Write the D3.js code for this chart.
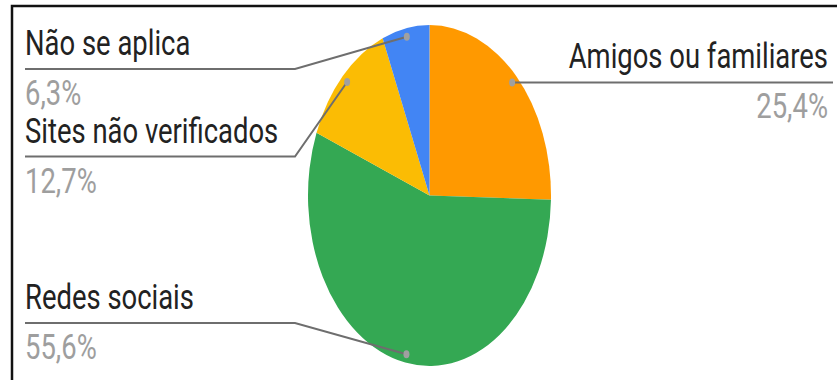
<!DOCTYPE html>
<html>
<head>
<meta charset="utf-8">
<script src="https://d3js.org/d3.v7.min.js"></script>
<style>
  body { margin: 0; background: #fff; }
  text { font-family: Roboto, "Liberation Sans", sans-serif; }
</style>
</head>
<body>
<div id="chart"></div>
<script>
// answers, in clockwise order from 12 o'clock
const categories = ['Amigos ou familiares', 'Redes sociais', 'Sites não verificados', 'Não se aplica'];
const values = [25.4, 55.6, 12.7, 6.3];
const pctLabels = ['25,4%', '55,6%', '12,7%', '6,3%'];
const colors = ['#ff9900', '#34a853', '#fbbc04', '#4285f4'];

const width = 837, height = 380;
const cx = 429.5, cy = 195.5, rx = 121.5, ry = 170.5;
const fontSize = 34.5;
const textScale = 0.795;   // picture is squeezed sideways

const svg = d3.select('#chart').append('svg')
    .attr('width', width)
    .attr('height', height);

// frame (only top and left edges show)
svg.append('rect')
    .attr('x', 12).attr('y', 6)
    .attr('width', 900).attr('height', 500)
    .attr('fill', 'none')
    .attr('stroke', '#111')
    .attr('stroke-width', 2.5);

const data = categories.map((c, i) => ({name: c, value: values[i], pct: pctLabels[i], color: colors[i]}));

const pie = d3.pie().sort(null).value(d => d.value);
const arcs = pie(data);
const arc = d3.arc().innerRadius(0).outerRadius(ry);

svg.append('g')
    .attr('transform', `translate(${cx},${cy}) scale(${rx / ry},1)`)
  .selectAll('path')
  .data(arcs)
  .join('path')
    .attr('d', arc)
    .attr('fill', d => d.data.color);

// dot inside each slice, on the ellipse
arcs.forEach(a => {
  const mid = (a.startAngle + a.endAngle) / 2;
  a.dotX = cx + 0.95 * rx * Math.sin(mid);
  a.dotY = cy - 0.95 * ry * Math.cos(mid);
  a.side = Math.sin(mid) >= 0 ? 'right' : 'left';
});

// label rows: follow the dot, keep inside the frame and apart
const minY = 69, maxY = 323, gap = 87.5;
['left', 'right'].forEach(side => {
  const list = arcs.filter(a => a.side === side).sort((a, b) => a.dotY - b.dotY);
  let prev = -Infinity;
  list.forEach(a => {
    a.lineY = Math.max(Math.min(Math.max(a.dotY, minY), maxY), prev + gap);
    prev = a.lineY;
  });
});

const leftX = 25, rightX = 833, elbowL = 295, elbowR = 563;

const lbl = svg.append('g');

lbl.selectAll('path')
  .data(arcs)
  .join('path')
    .attr('d', a => {
      const edge = a.side === 'left' ? leftX : rightX;
      const elbow = a.side === 'left' ? elbowL : elbowR;
      return `M${a.dotX},${a.dotY}L${elbow},${a.lineY}L${edge},${a.lineY}`;
    })
    .attr('fill', 'none')
    .attr('stroke', '#6e6e6e')
    .attr('stroke-width', 2);

lbl.selectAll('ellipse')
  .data(arcs)
  .join('ellipse')
    .attr('cx', a => a.dotX)
    .attr('cy', a => a.dotY)
    .attr('rx', 3)
    .attr('ry', 4)
    .attr('fill', '#a0a0a0');

lbl.selectAll('text.name')
  .data(arcs)
  .join('text')
    .attr('class', 'name')
    .attr('transform', a => `translate(${a.side === 'left' ? leftX : rightX - 5},${a.lineY - 14}) scale(${textScale},1)`)
    .attr('text-anchor', a => a.side === 'left' ? 'start' : 'end')
    .attr('font-size', fontSize)
    .attr('fill', '#222')
    .text(a => a.data.name);

lbl.selectAll('text.pct')
  .data(arcs)
  .join('text')
    .attr('class', 'pct')
    .attr('transform', a => `translate(${a.side === 'left' ? leftX : rightX - 5},${a.lineY + 36}) scale(${textScale},1)`)
    .attr('text-anchor', a => a.side === 'left' ? 'start' : 'end')
    .attr('font-size', fontSize)
    .attr('fill', '#9e9e9e')
    .text(a => a.data.pct);
</script>
</body>
</html>
